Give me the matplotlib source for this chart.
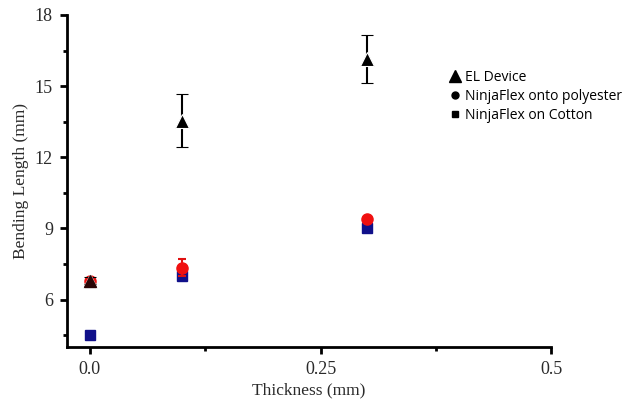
import matplotlib
matplotlib.use("Agg")
import matplotlib.pyplot as plt
from matplotlib.lines import Line2D
from matplotlib.ticker import MultipleLocator

thickness = [0.0, 0.1, 0.3]
el_device = [6.8, 13.55, 16.15]
el_err = [0.15, 1.1, 1.0]
poly = [6.8, 7.35, 9.4]
poly_err = [0.0, 0.35, 0.0]
cotton = [4.5, 7.0, 9.0]

fig = plt.figure(figsize=(6.3, 4.05), dpi=100)
ax = fig.add_axes([0.106, 0.143, 0.769, 0.82])

serif = ["Liberation Serif", "DejaVu Serif"]

ax.errorbar(thickness, poly, yerr=poly_err, fmt="o", color="#f01010", ms=8,
            ecolor="#e01010", capsize=3, elinewidth=1.5, capthick=1.5, zorder=3)
ax.plot(thickness, cotton, "s", color="#10108a", ms=7, zorder=2)
ax.errorbar(thickness, el_device, yerr=el_err, fmt="^", color="black", ms=10,
            mec="white", mew=0.8,
            ecolor="black", capsize=4, elinewidth=1.5, capthick=1.5, zorder=4)
ax.plot(thickness[:1], el_device[:1], "^", color="#2a0505", ms=9, zorder=5)

ax.set_xlim(-0.025, 0.5)
ax.set_ylim(4.0, 18)
ax.set_xticks([0.0, 0.25, 0.5])
ax.set_xticklabels(["0.0", "0.25", "0.5"])
ax.xaxis.set_minor_locator(MultipleLocator(0.125))
ax.set_yticks([6, 9, 12, 15, 18])
ax.yaxis.set_minor_locator(MultipleLocator(1.5))

for s in ["top", "right"]:
    ax.spines[s].set_visible(False)
for s in ["left", "bottom"]:
    ax.spines[s].set_linewidth(2)

ax.tick_params(which="major", direction="out", length=5, width=2, labelsize=13,
               colors="black", pad=5)
ax.tick_params(which="minor", direction="out", length=3, width=2)
for lab in ax.get_xticklabels() + ax.get_yticklabels():
    lab.set_fontfamily(serif)
    lab.set_color("#2a2a2a")

ax.set_xlabel("Thickness (mm)", family=serif, fontsize=12.5, color="#2a2a2a", labelpad=3)
ax.set_ylabel("Bending Length (mm)", family=serif, fontsize=12.5, color="#2a2a2a", labelpad=4)

handles = [
    Line2D([], [], marker="^", color="black", ls="none", ms=8),
    Line2D([], [], marker="o", color="black", ls="none", ms=5),
    Line2D([], [], marker="s", color="black", ls="none", ms=5),
]
labels = ["EL Device", "NinjaFlex onto polyester", "NinjaFlex on Cotton"]
fig.legend(handles, labels, loc="upper left", bbox_to_anchor=(0.705, 0.845),
           frameon=False, prop={"family": "Open Sans", "size": 10},
           handlelength=0.6, handletextpad=0.4, labelspacing=0.3, borderpad=0)

fig.savefig("out.png", dpi=100)
